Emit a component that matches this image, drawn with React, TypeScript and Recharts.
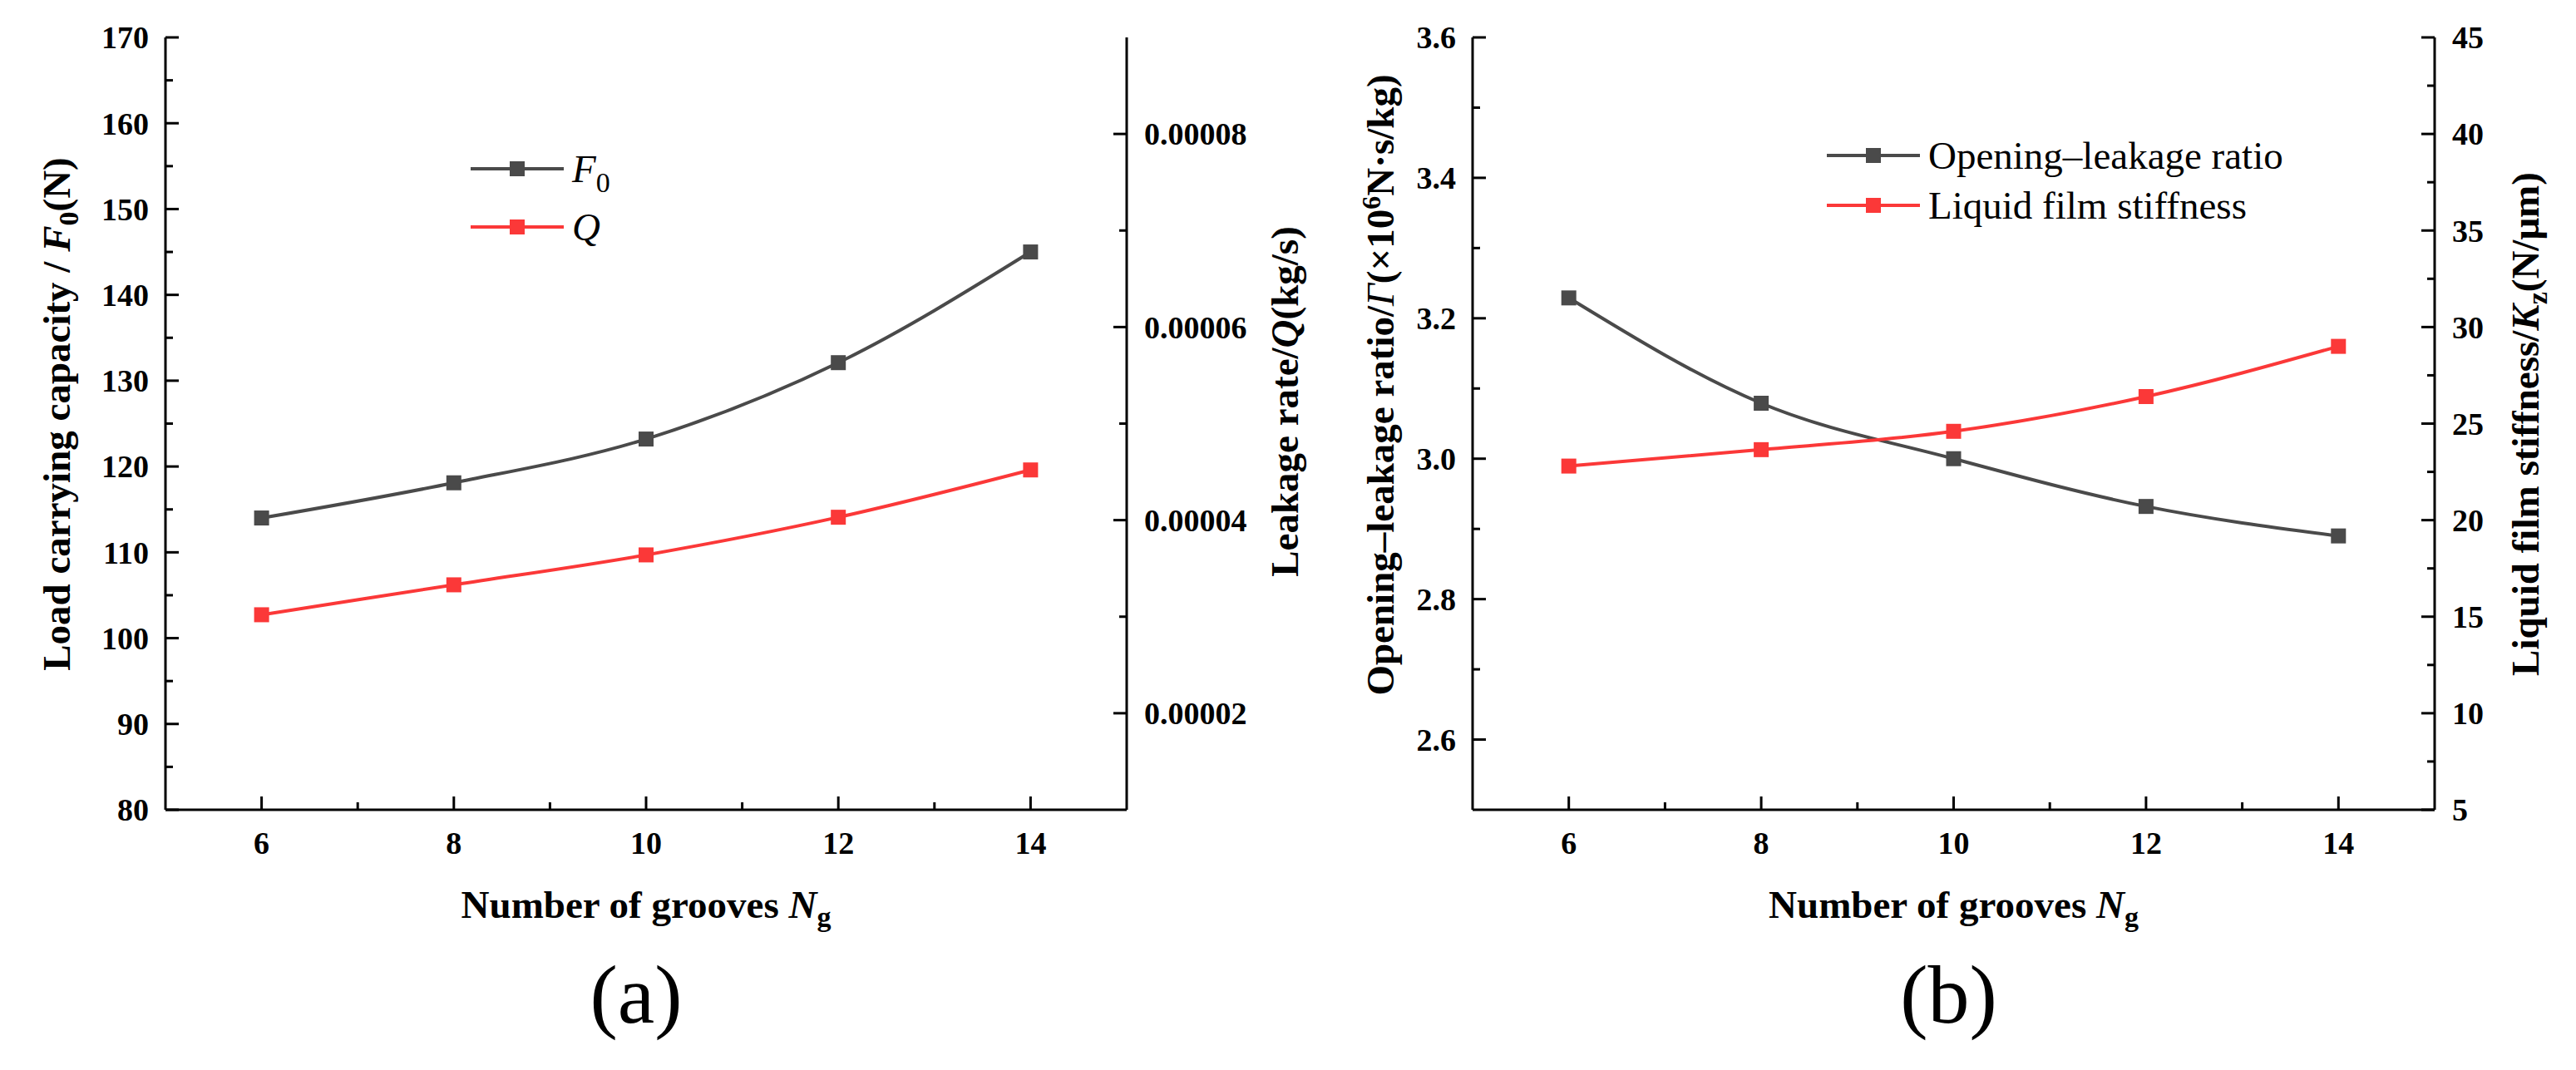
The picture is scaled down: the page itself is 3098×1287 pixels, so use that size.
import React from 'react'
import { LineChart, Line, XAxis, YAxis, Legend } from 'recharts'

const serif = '"Liberation Serif", "Times New Roman", Times, serif'
const GREY = '#4a4a4a'
const RED = '#fb3838'

// number of grooves N_g
const grooves = [6, 8, 10, 12, 14]

// panel (a)
const loadCapacity = [114.0, 118.1, 123.2, 132.1, 145.0]
const leakageRate = [0.0000302, 0.0000333, 0.0000364, 0.0000403, 0.0000452]

// panel (b)
const openingLeakage = [3.229, 3.079, 3.0, 2.932, 2.89]
const filmStiffness = [22.8, 23.65, 24.6, 26.4, 29.0]

// ticks (minor + major) and labelled majors
const grooveTicks = [6, 7, 8, 9, 10, 11, 12, 13, 14]
const grooveLabels = [6, 8, 10, 12, 14]
const loadTicks = [80, 85, 90, 95, 100, 105, 110, 115, 120, 125, 130, 135, 140, 145, 150, 155, 160, 165, 170]
const loadLabels = [80, 90, 100, 110, 120, 130, 140, 150, 160, 170]
const leakTicks = [0.00002, 0.00003, 0.00004, 0.00005, 0.00006, 0.00007, 0.00008]
const leakLabels = [0.00002, 0.00004, 0.00006, 0.00008]
const ratioTicks = [2.6, 2.7, 2.8, 2.9, 3.0, 3.1, 3.2, 3.3, 3.4, 3.5, 3.6]
const ratioLabels = [2.6, 2.8, 3.0, 3.2, 3.4, 3.6]
const stiffTicks = [5, 7.5, 10, 12.5, 15, 17.5, 20, 22.5, 25, 27.5, 30, 32.5, 35, 37.5, 40, 42.5, 45]
const stiffLabels = [5, 10, 15, 20, 25, 30, 35, 40, 45]

const panelA = grooves.map((n, i) => ({ n, load: loadCapacity[i], leak: leakageRate[i] }))
const panelB = grooves.map((n, i) => ({ n, ratio: openingLeakage[i], stiff: filmStiffness[i] }))

const axisLine = { stroke: '#000', strokeWidth: 3 }

function FrameTick(props: any) {
  const { x = 0, y = 0, payload, tickSide, majorValues, formatValue } = props
  const v = payload ? payload.value : 0
  const major = majorValues.some((m: number) => Math.abs(m - v) < 1e-9)
  const len = major ? 16 : 9
  const textProps = { fontFamily: serif, fontSize: 38, fontWeight: 'bold' as const, fill: '#000' }
  if (tickSide === 'left') {
    return (
      <g>
        <line x1={x} x2={x + len} y1={y} y2={y} stroke="#000" strokeWidth={3} />
        {major && <text x={x - 20} y={y} dy="0.35em" textAnchor="end" {...textProps}>{formatValue(v)}</text>}
      </g>
    )
  }
  if (tickSide === 'right') {
    return (
      <g>
        <line x1={x} x2={x - len} y1={y} y2={y} stroke="#000" strokeWidth={3} />
        {major && <text x={x + 21} y={y} dy="0.35em" textAnchor="start" {...textProps}>{formatValue(v)}</text>}
      </g>
    )
  }
  return (
    <g>
      <line x1={x} x2={x} y1={y} y2={y - len} stroke="#000" strokeWidth={3} />
      {major && <text x={x} y={y + 53} textAnchor="middle" {...textProps}>{formatValue(v)}</text>}
    </g>
  )
}

function SquareDot(props: any) {
  const { cx, cy, boxColor } = props
  if (cx == null || cy == null) return null
  return <rect x={cx - 9} y={cy - 9} width={18} height={18} fill={boxColor} />
}

function verticalTitle(x: number, y: number, children: React.ReactNode) {
  return (
    <text x={x} y={y} transform={`rotate(-90 ${x} ${y})`} textAnchor="middle"
      fontFamily={serif} fontSize={47} fontWeight="bold" fill="#000">
      {children}
    </text>
  )
}

function bottomTitle(vb: any, letter: string, letterShift: number) {
  if (!vb) return null
  const cx = vb.x + vb.width / 2
  return (
    <g>
      <text x={cx} y={vb.y + 130} textAnchor="middle" fontFamily={serif} fontSize={47} fontWeight="bold" fill="#000">
        Number of grooves <tspan fontStyle="italic">N</tspan>
        <tspan fontSize={34} dy={10}>g</tspan>
      </text>
      <text x={cx + letterShift} y={vb.y + 256} textAnchor="middle" fontFamily={serif} fontSize={100} fill="#000">
        {letter}
      </text>
    </g>
  )
}

function SeriesKey({ items, rowGap }: { items: { color: string; label: React.ReactNode }[]; rowGap: number }) {
  return (
    <svg width={600} height={200} style={{ overflow: 'visible' }}>
      {items.map((it, i) => {
        const y = 40 + i * rowGap
        return (
          <g key={i}>
            <line x1={10} x2={122} y1={y} y2={y} stroke={it.color} strokeWidth={4} />
            <rect x={57} y={y - 9} width={18} height={18} fill={it.color} />
            <text x={132} y={y + 16} fontFamily={serif} fontSize={47} fill="#000">{it.label}</text>
          </g>
        )
      })}
    </svg>
  )
}

const keyA = [
  { color: GREY, label: <><tspan fontStyle="italic">F</tspan><tspan fontSize={34} dy={12}>0</tspan></> },
  { color: RED, label: <tspan fontStyle="italic">Q</tspan> },
]
const keyB = [
  { color: GREY, label: 'Opening\u2013leakage ratio' },
  { color: RED, label: 'Liquid film stiffness' },
]

function PanelA() {
  return (
    <LineChart width={1600} height={1287} data={panelA} margin={{ top: 45, right: 0, bottom: 0, left: 0 }}>
      <XAxis dataKey="n" type="number" domain={[5, 15]} ticks={grooveTicks} interval={0} height={313}
        tickLine={false} tickSize={0} tickMargin={0} axisLine={axisLine} allowDataOverflow
        tick={<FrameTick tickSide="bottom" majorValues={grooveLabels} formatValue={(v: number) => String(v)} />}
        label={{ content: (p: any) => bottomTitle(p.viewBox, '(a)', -12) }} />
      <XAxis xAxisId="top" orientation="top" type="number" domain={[5, 15]} height={0}
        tick={false} tickLine={false} axisLine={axisLine} />
      <YAxis yAxisId="left" type="number" domain={[80, 170]} ticks={loadTicks} interval={0} width={199}
        tickLine={false} tickSize={0} tickMargin={0} axisLine={axisLine} allowDataOverflow
        tick={<FrameTick tickSide="left" majorValues={loadLabels} formatValue={(v: number) => String(v)} />}
        label={{
          content: (p: any) => p.viewBox ? verticalTitle(p.viewBox.x + 84, p.viewBox.y + 453, (
            <>Load carrying capacity / <tspan fontStyle="italic">F</tspan><tspan fontSize={34} dy={10}>0</tspan><tspan dy={-10}>(N)</tspan></>
          )) : null,
        }} />
      <YAxis yAxisId="right" orientation="right" type="number" domain={[0.00001, 0.00009]} ticks={leakTicks}
        interval={0} width={245} tickLine={false} tickSize={0} tickMargin={0} axisLine={axisLine} allowDataOverflow
        tick={<FrameTick tickSide="right" majorValues={leakLabels} formatValue={(v: number) => v.toFixed(5)} />}
        label={{
          content: (p: any) => p.viewBox ? verticalTitle(p.viewBox.x + 206, p.viewBox.y + 438, (
            <>Leakage rate/<tspan fontStyle="italic">Q</tspan>(kg/s)</>
          )) : null,
        }} />
      <Legend layout="horizontal" verticalAlign="middle" align="center"
        wrapperStyle={{ left: 556, top: 163, width: 600, height: 200 }}
        content={() => <SeriesKey items={keyA} rowGap={70} />} />
      <Line yAxisId="left" dataKey="load" type="monotone" stroke={GREY} strokeWidth={4}
        dot={<SquareDot boxColor={GREY} />} activeDot={false} isAnimationActive={false} />
      <Line yAxisId="right" dataKey="leak" type="monotone" stroke={RED} strokeWidth={4}
        dot={<SquareDot boxColor={RED} />} activeDot={false} isAnimationActive={false} />
    </LineChart>
  )
}

function PanelB() {
  return (
    <LineChart width={1498} height={1287} data={panelB} margin={{ top: 45, right: 0, bottom: 0, left: 0 }}>
      <XAxis dataKey="n" type="number" domain={[5, 15]} ticks={grooveTicks} interval={0} height={313}
        tickLine={false} tickSize={0} tickMargin={0} axisLine={axisLine} allowDataOverflow
        tick={<FrameTick tickSide="bottom" majorValues={grooveLabels} formatValue={(v: number) => String(v)} />}
        label={{ content: (p: any) => bottomTitle(p.viewBox, '(b)', -6) }} />
      <XAxis xAxisId="top" orientation="top" type="number" domain={[5, 15]} height={0}
        tick={false} tickLine={false} axisLine={axisLine} />
      <YAxis yAxisId="left" type="number" domain={[2.5, 3.6]} ticks={ratioTicks} interval={0} width={171}
        tickLine={false} tickSize={0} tickMargin={0} axisLine={axisLine} allowDataOverflow
        tick={<FrameTick tickSide="left" majorValues={ratioLabels} formatValue={(v: number) => v.toFixed(1)} />}
        label={{
          content: (p: any) => p.viewBox ? verticalTitle(p.viewBox.x + 76, p.viewBox.y + 418, (
            <>Opening{'\u2013'}leakage ratio/<tspan fontStyle="italic" fontWeight="normal">{'\u0393'}</tspan>({'\u00d7'}10<tspan fontSize={32} dy={-16}>6</tspan><tspan dy={16}>N{'\u00b7'}s/kg)</tspan></>
          )) : null,
        }} />
      <YAxis yAxisId="right" orientation="right" type="number" domain={[5, 45]} ticks={stiffTicks}
        interval={0} width={170} tickLine={false} tickSize={0} tickMargin={0} axisLine={axisLine} allowDataOverflow
        tick={<FrameTick tickSide="right" majorValues={stiffLabels} formatValue={(v: number) => String(v)} />}
        label={{
          content: (p: any) => p.viewBox ? verticalTitle(p.viewBox.x + 125, p.viewBox.y + 465, (
            <>Liquid film stiffness/<tspan fontStyle="italic">K</tspan><tspan fontSize={34} dy={10}>z</tspan><tspan dy={-10}>(N/{'\u03bc'}m)</tspan></>
          )) : null,
        }} />
      <Legend layout="horizontal" verticalAlign="middle" align="center"
        wrapperStyle={{ left: 587, top: 147, width: 600, height: 200 }}
        content={() => <SeriesKey items={keyB} rowGap={60} />} />
      <Line yAxisId="left" dataKey="ratio" type="monotone" stroke={GREY} strokeWidth={4}
        dot={<SquareDot boxColor={GREY} />} activeDot={false} isAnimationActive={false} />
      <Line yAxisId="right" dataKey="stiff" type="monotone" stroke={RED} strokeWidth={4}
        dot={<SquareDot boxColor={RED} />} activeDot={false} isAnimationActive={false} />
    </LineChart>
  )
}

export default function App() {
  return (
    <div style={{ position: 'absolute', left: 0, top: 0, width: 3098, height: 1287, background: '#fff' }}>
      <div style={{ position: 'absolute', left: 0, top: 0 }}>
        <PanelA />
      </div>
      <div style={{ position: 'absolute', left: 1600, top: 0 }}>
        <PanelB />
      </div>
    </div>
  )
}
